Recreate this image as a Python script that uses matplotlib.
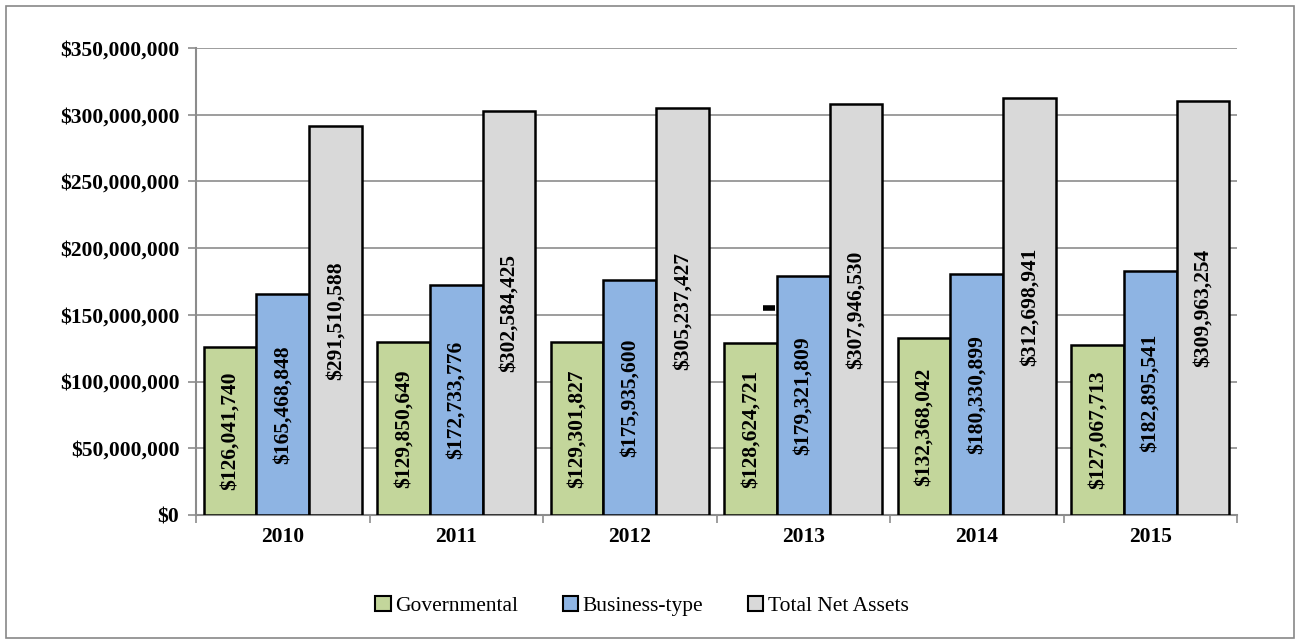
import numpy as np
import matplotlib
matplotlib.use("Agg")
import matplotlib.pyplot as plt
from matplotlib.patches import Rectangle
from matplotlib.ticker import FuncFormatter, MultipleLocator

years = ["2010", "2011", "2012", "2013", "2014", "2015"]
governmental = [126041740, 129850649, 129301827, 128624721, 132368042, 127067713]
business = [165468848, 172733776, 175935600, 179321809, 180330899, 182895541]
total = [291510588, 302584425, 305237427, 307946530, 312698941, 309963254]

series = [
    ("Governmental", governmental, "#C3D69B"),
    ("Business-type", business, "#8EB4E3"),
    ("Total Net Assets", total, "#D9D9D9"),
]

plt.rcParams['font.family'] = ['Liberation Serif', 'DejaVu Serif']

fig = plt.figure(figsize=(13, 6.44), dpi=100)
ax = fig.add_axes([196 / 1300, 1 - 515 / 644, (1237 - 196) / 1300, (515 - 48) / 644])

# outer chart border
fig.patches.append(Rectangle((6 / 1300, 6 / 644), 1288 / 1300, 632 / 644,
                             transform=fig.transFigure, fill=False,
                             edgecolor="#888888", linewidth=1.2))

x = np.arange(len(years))
w = 0.303
for i, (name, vals, col) in enumerate(series):
    pos = x + (i - 1) * w
    ax.bar(pos, vals, w, color=col, edgecolor="black", linewidth=1.8,
           label=name, zorder=3)
    for p, v in zip(pos, vals):
        ax.text(p, v / 2, f"${v:,.0f}", rotation=90, ha="center", va="center",
                fontsize=15.5, fontweight="bold", zorder=4)

# stray mark just left of the 2013 business-type bar
ax.plot([3 - 0.5 * w - 0.045], [155000000], marker="_", markersize=8,
        markeredgewidth=4, color="black", zorder=4)

ax.set_xlim(-0.5, len(years) - 0.5)
ax.set_ylim(0, 350000000)
ax.yaxis.set_major_locator(MultipleLocator(50000000))
ax.yaxis.set_major_formatter(FuncFormatter(lambda v, _: f"${v:,.0f}"))
ax.grid(axis="y", color="#8c8c8c", linewidth=1.2, zorder=0)

ax.set_xticks(x)
ax.set_xticklabels(years)
ax.set_xticks(np.arange(len(years) + 1) - 0.5, minor=True)
ax.tick_params(axis="x", which="major", length=0, pad=9)
ax.tick_params(axis="x", which="minor", length=6, color="#8c8c8c", width=1.2)
ax.tick_params(axis="y", length=6, color="#8c8c8c", width=1.2, pad=6)
for lab in ax.get_xticklabels() + ax.get_yticklabels():
    lab.set_fontweight("bold")
    lab.set_fontsize(15.5)

for s in ["top", "right"]:
    ax.spines[s].set_visible(False)
for s in ["left", "bottom"]:
    ax.spines[s].set_color("#8c8c8c")
    ax.spines[s].set_linewidth(1.5)

leg = fig.legend(loc="center", bbox_to_anchor=(642 / 1300, 1 - 606 / 644), ncol=3,
                 frameon=False, fontsize=15.5, handlelength=0.7, handleheight=0.7,
                 handletextpad=0.2, columnspacing=2.1)
for h in leg.legend_handles:
    h.set_linewidth(1.5)

fig.savefig("out.png", dpi=100)
